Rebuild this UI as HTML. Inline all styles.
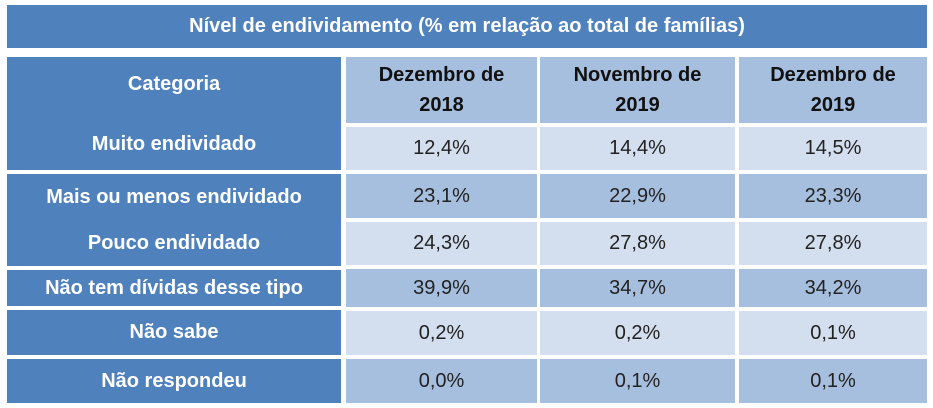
<!DOCTYPE html>
<html><head><meta charset="utf-8"><style>
body{margin:0;width:933px;height:408px;background:#fff;position:relative;overflow:hidden;font-family:"Liberation Sans",sans-serif}
div.c{position:absolute;display:flex;align-items:center;justify-content:center;text-align:center;box-sizing:border-box}
.b{background:#4f81bd;color:#fff;font-weight:bold;font-size:20px}
.h{background:#a7bfde;color:#111;font-weight:bold;font-size:20px;line-height:30px}
.l{background:#d3dfee;color:#222;font-size:20px}
.d{background:#a7bfde;color:#222;font-size:20px}
</style></head><body>
<div class="c b" style="left:7px;top:5px;width:920px;height:43px">Nível de endividamento (% em relação ao total de famílias)</div>
<div class="c b" style="left:7px;top:57px;width:334px;height:113px;flex-direction:column;justify-content:space-around;padding:6px 0"><span style="margin-top:2px">Categoria</span><span style="margin-top:22px">Muito endividado</span></div>
<div class="c b" style="left:7px;top:174px;width:334px;height:92px;flex-direction:column;justify-content:space-around"><span>Mais ou menos endividado</span><span>Pouco endividado</span></div>
<div class="c b" style="left:7px;top:270px;width:334px;height:36px">Não tem dívidas desse tipo</div>
<div class="c b" style="left:7px;top:310px;width:334px;height:45px">Não sabe</div>
<div class="c b" style="left:7px;top:359px;width:334px;height:44px">Não respondeu</div>
<div class="c h" style="left:346px;top:57px;width:191px;height:66px">Dezembro de<br>2018</div>
<div class="c h" style="left:540px;top:57px;width:195px;height:66px">Novembro de<br>2019</div>
<div class="c h" style="left:739px;top:57px;width:188px;height:66px">Dezembro de<br>2019</div>
<div id="cells"></div>
<script>
const rows=[[127,43,'l'],[174,44,'d'],[222,43,'l'],[269,38,'d'],[311,44,'l'],[359,44,'d']];
const cols=[[346,191],[540,195],[739,188]];
const vals=[["12,4%","14,4%","14,5%"],["23,1%","22,9%","23,3%"],["24,3%","27,8%","27,8%"],["39,9%","34,7%","34,2%"],["0,2%","0,2%","0,1%"],["0,0%","0,1%","0,1%"]];
rows.forEach((r,i)=>cols.forEach((c,j)=>{
const el=document.createElement('div');
el.className='c '+r[2];
el.style.cssText=`left:${c[0]}px;top:${r[0]}px;width:${c[1]}px;height:${r[1]}px`;
el.textContent=vals[i][j];


document.body.appendChild(el);
}));
</script>
</body></html>
